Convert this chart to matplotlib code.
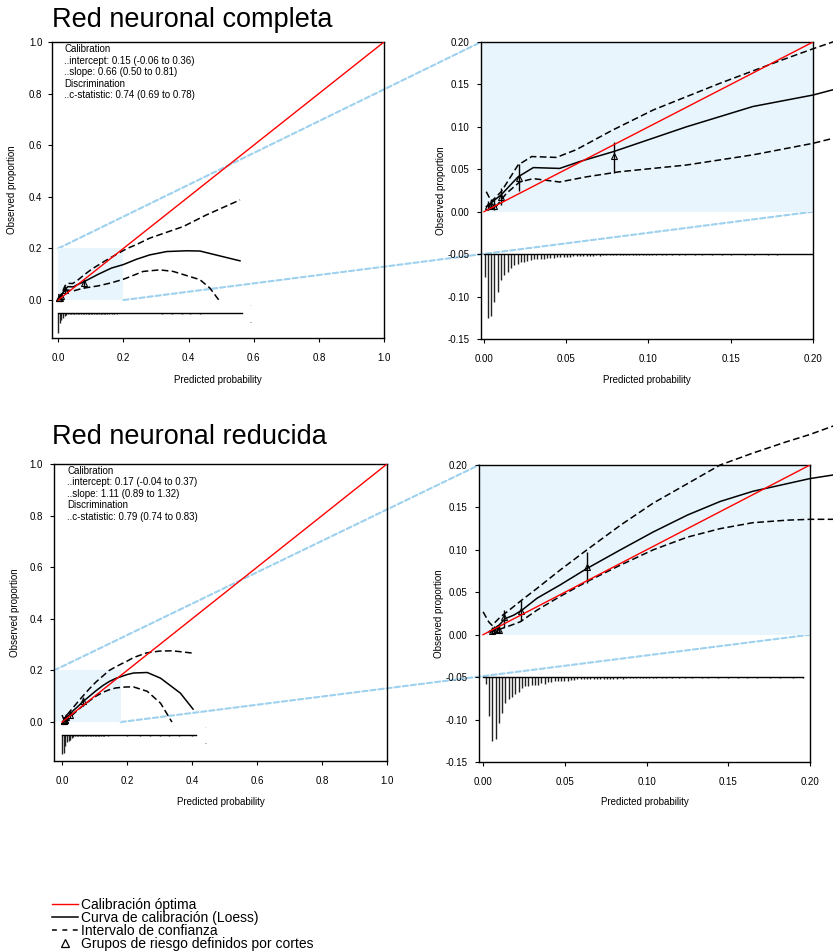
import matplotlib
matplotlib.use('Agg')
import matplotlib.pyplot as plt
from matplotlib.patches import Rectangle, ConnectionPatch
from matplotlib.lines import Line2D
import numpy as np

plt.rcParams['font.family'] = ['Liberation Sans', 'DejaVu Sans']
plt.rcParams['axes.unicode_minus'] = False

W, H = 833, 952

# ---- Red neuronal completa ----
comp_loess_x = [0.0014, 0.0105, 0.0207, 0.03, 0.046, 0.058, 0.079, 0.123, 0.1635, 0.2, 0.24, 0.281, 0.333, 0.394, 0.435, 0.558]
comp_loess_y = [0.006, 0.02, 0.041, 0.052, 0.051, 0.059, 0.071, 0.100, 0.124, 0.1375, 0.158, 0.175, 0.188, 0.191, 0.19, 0.152]
comp_upper_x = [0.0014, 0.0045, 0.0105, 0.0207, 0.029, 0.044, 0.056, 0.078, 0.103, 0.143, 0.18, 0.2, 0.212, 0.24, 0.281, 0.384, 0.455, 0.558]
comp_upper_y = [0.0236, 0.012, 0.0236, 0.055, 0.065, 0.064, 0.073, 0.096, 0.12, 0.151, 0.178, 0.192, 0.2, 0.215, 0.24, 0.285, 0.33, 0.388]
comp_lower_x = [0.0014, 0.0065, 0.0136, 0.0217, 0.03, 0.046, 0.062, 0.082, 0.123, 0.1635, 0.2, 0.212, 0.261, 0.312, 0.353, 0.435, 0.466, 0.496]
comp_lower_y = [0.002, 0.004, 0.0216, 0.035, 0.039, 0.035, 0.041, 0.047, 0.055, 0.067, 0.0806, 0.0864, 0.111, 0.117, 0.111, 0.079, 0.046, -0.005]
comp_grp_x = [0.0026, 0.004, 0.006, 0.0101, 0.0213, 0.0792]
comp_grp_y = [0.0065, 0.008, 0.007, 0.0173, 0.0396, 0.066]
comp_grp_lo = [0.002, 0.003, 0.002, 0.008, 0.0247, 0.046]
comp_grp_hi = [0.013, 0.015, 0.014, 0.028, 0.056, 0.0816]
comp_max_pred = 0.563
comp_stats = ["Calibration", "..intercept: 0.15 (-0.06 to 0.36)", "..slope: 0.66 (0.50 to 0.81)",
              "Discrimination", "..c-statistic: 0.74 (0.69 to 0.78)"]
# histogram of predictions, full range (bin width 0.005)
comp_hist_coarse = [0.0775, 0.04, 0.028, 0.019, 0.010, 0.0065, 0.005, 0.0045, 0.004, 0.004,
                    0.004, 0.004, 0.0035, 0.004, 0.0035, 0.0035, 0.003, 0.0035, 0.003, 0.003,
                    0.003, 0.003, 0.003, 0.0025, 0.003, 0.003, 0.0025, 0.003, 0.0025, 0.0025,
                    0.0025, 0.0025, 0.002, 0.0025, 0.0025, 0.002, 0.0025, 0.002, 0.002, 0.002,
                    0.002, 0.002, 0.0, 0.002, 0.002, 0.0, 0.002, 0.002, 0.0, 0.002,
                    0.0, 0.002, 0.0, 0.002, 0.0, 0.0, 0.002, 0.0, 0.0, 0.002]
comp_hist_tail_x = [0.32, 0.35, 0.38, 0.405, 0.435]
comp_hist_tail_h = [0.003, 0.003, 0.003, 0.003, 0.003]
# histogram of predictions, zoomed range (bin width 0.002)
comp_hist_fine = [0.027, 0.075, 0.0725, 0.056, 0.045, 0.031, 0.024, 0.021, 0.0165, 0.0126,
                  0.0114, 0.0098, 0.0087, 0.0075, 0.0067, 0.0059, 0.0055, 0.0055, 0.0055, 0.0047,
                  0.0047, 0.0043, 0.0039, 0.0035, 0.0032, 0.0028, 0.0028, 0.0024, 0.0024, 0.002,
                  0.002, 0.0024, 0.0016, 0.0016, 0.0012, 0.0016, 0.0012, 0.0012, 0.0012, 0.0012,
                  0.0012, 0.0008, 0.0012, 0.0012, 0.0008, 0.0012, 0.0008, 0.0012, 0.0008, 0.0008,
                  0.0008, 0.0008, 0.0008, 0.0, 0.0008, 0.0008, 0.0, 0.0008, 0.0, 0.0008,
                  0.0, 0.0008, 0.0, 0.0, 0.0008, 0.0, 0.0008, 0.0, 0.0, 0.0008,
                  0.0, 0.0, 0.0008, 0.0, 0.0, 0.0008, 0.0, 0.0, 0.0, 0.0008,
                  0.0, 0.0, 0.0008, 0.0, 0.0, 0.0, 0.0008, 0.0, 0.0, 0.0008]

# ---- Red neuronal reducida ----
red_loess_x = [0.0035, 0.0055, 0.0096, 0.0136, 0.0187, 0.0238, 0.033, 0.047, 0.0635, 0.084, 0.104, 0.125, 0.145, 0.165, 0.186, 0.2, 0.22, 0.262, 0.303, 0.364, 0.403]
red_loess_y = [0.0035, 0.0055, 0.011, 0.019, 0.023, 0.029, 0.043, 0.0585, 0.078, 0.1, 0.121, 0.141, 0.157, 0.169, 0.178, 0.184, 0.19, 0.192, 0.17, 0.112, 0.05]
red_upper_x = [0.0, 0.0035, 0.0055, 0.0106, 0.0147, 0.0238, 0.033, 0.047, 0.0635, 0.084, 0.104, 0.125, 0.145, 0.165, 0.185, 0.2, 0.22, 0.26, 0.3, 0.34, 0.403]
red_upper_y = [0.027, 0.015, 0.011, 0.021, 0.027, 0.041, 0.0546, 0.076, 0.1, 0.129, 0.155, 0.178, 0.2, 0.214, 0.227, 0.236, 0.25, 0.268, 0.275, 0.276, 0.267]
red_lower_x = [0.0035, 0.0086, 0.0147, 0.0228, 0.033, 0.047, 0.0635, 0.084, 0.104, 0.125, 0.145, 0.165, 0.186, 0.2, 0.22, 0.262, 0.303, 0.338]
red_lower_y = [0.0035, 0.0055, 0.0094, 0.0153, 0.029, 0.045, 0.0625, 0.082, 0.1, 0.115, 0.125, 0.132, 0.135, 0.136, 0.136, 0.119, 0.073, 0.0]
red_grp_x = [0.0055, 0.0065, 0.0084, 0.0095, 0.013, 0.023, 0.0638]
red_grp_y = [0.004, 0.005, 0.0065, 0.006, 0.0204, 0.0274, 0.080]
red_grp_lo = [0.001, 0.001, 0.002, 0.002, 0.009, 0.0157, 0.061]
red_grp_hi = [0.009, 0.01, 0.012, 0.012, 0.029, 0.041, 0.098]
red_max_pred = 0.411
red_stats = ["Calibration", "..intercept: 0.17 (-0.04 to 0.37)", "..slope: 1.11 (0.89 to 1.32)",
             "Discrimination", "..c-statistic: 0.79 (0.74 to 0.83)"]
red_hist_coarse = [0.073, 0.071, 0.041, 0.028, 0.022, 0.018, 0.013, 0.009, 0.006, 0.005,
                   0.005, 0.005, 0.0045, 0.0045, 0.004, 0.004, 0.004, 0.0035, 0.0035, 0.003,
                   0.003, 0.003, 0.0025, 0.003, 0.0025, 0.0025, 0.0025, 0.002, 0.0025, 0.002,
                   0.002, 0.002, 0.0, 0.002]
red_hist_tail_x = [0.2, 0.24, 0.27, 0.30, 0.33, 0.36, 0.40]
red_hist_tail_h = [0.004, 0.004, 0.003, 0.004, 0.003, 0.003, 0.003]
red_hist_fine = [0.0086, 0.046, 0.0757, 0.0733, 0.054, 0.042, 0.030, 0.026, 0.0235, 0.020,
                 0.017, 0.0125, 0.011, 0.0106, 0.0098, 0.0098, 0.0098, 0.007, 0.0078, 0.0059,
                 0.0055, 0.0047, 0.0051, 0.0047, 0.0051, 0.0043, 0.0039, 0.0031, 0.0027, 0.0027,
                 0.0024, 0.0024, 0.0024, 0.002, 0.002, 0.002, 0.002, 0.0016, 0.0016, 0.0016,
                 0.0016, 0.0012, 0.0016, 0.0012, 0.0012, 0.0012, 0.0008, 0.0012, 0.0008, 0.0008,
                 0.0008, 0.0008, 0.0008, 0.0, 0.0008, 0.0008, 0.0, 0.0008, 0.0, 0.0008,
                 0.0, 0.0008, 0.0, 0.0008, 0.0, 0.0, 0.0008, 0.0, 0.0008, 0.0,
                 0.0, 0.0008, 0.0, 0.0, 0.0008, 0.0, 0.0, 0.0008, 0.0, 0.0,
                 0.0008, 0.0, 0.0, 0.0008, 0.0, 0.0, 0.0, 0.0008, 0.0, 0.0,
                 0.0008, 0.0, 0.0, 0.0, 0.0008, 0.0, 0.0, 0.0008]
red_hist_fine_end = 0.196

legend_labels = ["Calibración óptima", "Curva de calibración (Loess)",
                 "Intervalo de confianza", "Grupos de riesgo definidos por cortes"]

RED = '#FF0000'
SHADE = '#E8F5FC'
BLUE = '#9DD1EE'
DASH = (0, (4.4, 2.2))
HIST_BASE = -0.05


def px(x, y):
    return x / W, 1 - y / H


fig = plt.figure(figsize=(W / 100, H / 100), dpi=100)

ax1 = fig.add_axes([52 / W, 1 - 338 / H, 332 / W, 296 / H])
ax2 = fig.add_axes([481 / W, 1 - 339 / H, 332 / W, 297 / H])
ax3 = fig.add_axes([54 / W, 1 - 761 / H, 333 / W, 297 / H])
ax4 = fig.add_axes([479 / W, 1 - 762 / H, 331 / W, 297 / H])

ax1.set_xlim(-0.019, 1.0); ax1.set_ylim(-0.147, 1.0)
ax2.set_xlim(-0.0018, 0.2); ax2.set_ylim(-0.15, 0.2)
ax3.set_xlim(-0.025, 1.0); ax3.set_ylim(-0.151, 1.0)
ax4.set_xlim(-0.0025, 0.2); ax4.set_ylim(-0.15, 0.2)


def style_axes(ax, xt, yt, fmt, ypad):
    ax.set_facecolor('none')
    ax.set_xticks(xt)
    ax.set_xticklabels([fmt.format(t) for t in xt])
    ax.set_yticks(yt)
    ax.set_yticklabels([fmt.format(t) for t in yt])
    ax.tick_params(axis='x', direction='out', length=3, width=0.8, labelsize=7, pad=7.5)
    ax.tick_params(axis='y', direction='out', length=3, width=0.8, labelsize=7, pad=ypad)
    for s in ax.spines.values():
        s.set_linewidth(1.0)


full_ticks = [0.0, 0.2, 0.4, 0.6, 0.8, 1.0]
zoom_xticks = [0.0, 0.05, 0.10, 0.15, 0.20]
zoom_yticks = [-0.15, -0.10, -0.05, 0.0, 0.05, 0.10, 0.15, 0.20]
style_axes(ax1, full_ticks, full_ticks, "{:.1f}", 4)
style_axes(ax3, full_ticks, full_ticks, "{:.1f}", 5)
style_axes(ax2, zoom_xticks, zoom_yticks, "{:.2f}", 5.5)
style_axes(ax4, zoom_xticks, zoom_yticks, "{:.2f}", 5.5)


def draw_curves(ax, lx, ly, ux, uy, wx, wy, gx, gy, glo, ghi, clip):
    ax.plot(ux, uy, color='black', lw=1.1, ls=DASH, clip_on=clip, zorder=3)
    ax.plot(wx, wy, color='black', lw=1.1, ls=DASH, clip_on=clip, zorder=3)
    ax.plot(lx, ly, color='black', lw=1.1, clip_on=clip, zorder=3)
    ax.vlines(gx, glo, ghi, color='black', lw=1.0, zorder=4)
    ax.plot(gx, gy, ls='none', marker='^', ms=5, mfc='none', mec='black', mew=0.8, zorder=4)


def draw_hist(ax, start, width, heights, end, tail_x=None, tail_h=None):
    xs = start + width * np.arange(len(heights))
    h = np.array(heights)
    keep = h > 0
    ax.vlines(xs[keep], HIST_BASE - h[keep], HIST_BASE, color='#222222', lw=1.0, zorder=2)
    if tail_x is not None:
        ax.vlines(tail_x, HIST_BASE - np.array(tail_h), HIST_BASE, color='#222222', lw=1.0, zorder=2)
    ax.plot([0, end], [HIST_BASE, HIST_BASE], color='black', lw=1.0, zorder=2)


# panel 1: completa, full range
ax1.add_patch(Rectangle((0, 0), 0.2, 0.2, color=SHADE, lw=0, zorder=1))
draw_hist(ax1, 0.0, 0.005, comp_hist_coarse, comp_max_pred, comp_hist_tail_x, comp_hist_tail_h)
draw_curves(ax1, comp_loess_x, comp_loess_y, comp_upper_x, comp_upper_y, comp_lower_x, comp_lower_y,
            comp_grp_x, comp_grp_y, comp_grp_lo, comp_grp_hi, True)
ax1.plot([0, 1], [0, 1], color=RED, lw=1.0, zorder=5)
ax1.text(0.59, -0.022, '-', fontsize=4, color='#bbbbbb', ha='center', va='center')
ax1.text(0.59, -0.082, '.', fontsize=5, color='black', ha='center', va='center')

# panel 2: completa, zoom
ax2.axhspan(0, 0.2, color=SHADE, lw=0, zorder=1)
draw_hist(ax2, 0.0004, 0.002, comp_hist_fine, 0.2)
draw_curves(ax2, comp_loess_x, comp_loess_y, comp_upper_x, comp_upper_y, comp_lower_x, comp_lower_y,
            comp_grp_x, comp_grp_y, comp_grp_lo, comp_grp_hi, False)
ax2.plot([0, 0.2], [0, 0.2], color=RED, lw=1.0, zorder=5)

# panel 3: reducida, full range
ax3.add_patch(Rectangle((-0.025, 0), 0.205, 0.2, color=SHADE, lw=0, zorder=1))
draw_hist(ax3, 0.0, 0.005, red_hist_coarse, red_max_pred, red_hist_tail_x, red_hist_tail_h)
draw_curves(ax3, red_loess_x, red_loess_y, red_upper_x, red_upper_y, red_lower_x, red_lower_y,
            red_grp_x, red_grp_y, red_grp_lo, red_grp_hi, True)
ax3.plot([0, 1], [0, 1], color=RED, lw=1.0, zorder=5)
ax3.text(0.441, -0.021, '-', fontsize=4, color='#bbbbbb', ha='center', va='center')
ax3.text(0.441, -0.081, '.', fontsize=5, color='black', ha='center', va='center')

# panel 4: reducida, zoom
ax4.axhspan(0, 0.2, color=SHADE, lw=0, zorder=1)
draw_hist(ax4, 0.0017, 0.002, red_hist_fine, red_hist_fine_end)
draw_curves(ax4, red_loess_x, red_loess_y, red_upper_x, red_upper_y, red_lower_x, red_lower_y,
            red_grp_x, red_grp_y, red_grp_lo, red_grp_hi, False)
ax4.plot([0, 0.2], [0, 0.2], color=RED, lw=1.0, zorder=5)

# zoom connectors
for axA, pA_top, pA_bot, axB in [(ax1, (0, 0.2), (0.2, 0.0), ax2), (ax3, (-0.025, 0.2), (0.18, 0.0), ax4)]:
    for pA, pB in [(pA_top, (0, 1)), (pA_bot, (1, 0.15 / 0.35))]:
        con = ConnectionPatch(xyA=pA, coordsA="data", axesA=axA, xyB=pB, coordsB="axes fraction",
                              axesB=axB, color=BLUE, lw=1.5, linestyle=(0, (2.5, 1.4)), zorder=-1)
        fig.add_artist(con)

# axis labels
for ax, xl_y, yl_x, top, bot in [(ax1, 380, 12, 42, 338), (ax2, 380, 441, 42, 339),
                                 (ax3, 802, 15, 464, 761), (ax4, 802, 439, 465, 762)]:
    bb = ax.get_position()
    cx = (bb.x0 + bb.x1) / 2
    fig.text(cx, 1 - xl_y / H, "Predicted probability", fontsize=7, ha='center', va='center')
    fig.text(yl_x / W, 1 - (top + bot) / 2 / H, "Observed proportion", fontsize=7,
             rotation=90, ha='center', va='center')

# statistics text
for lines, x0, ys in [(comp_stats, 64.3, [49, 60.7, 72.3, 83.7, 95.3]),
                      (red_stats, 67.3, [470.7, 482.3, 494, 505.3, 517])]:
    for s, yy in zip(lines, ys):
        fig.text(*px(x0, yy), s, fontsize=7, ha='left', va='center')

# titles
fig.text(*px(52, 20), "Red neuronal completa", fontsize=19.5, ha='left', va='center')
fig.text(*px(52, 437), "Red neuronal reducida", fontsize=19.5, ha='left', va='center')

# legend
handles = [Line2D([], [], color=RED, lw=1.0),
           Line2D([], [], color='black', lw=1.1),
           Line2D([], [], color='black', lw=1.1, ls=(0, (3.2, 3.6))),
           Line2D([], [], ls='none', marker='^', ms=5.5, mfc='none', mec='black', mew=0.9)]
fig.legend(handles, legend_labels, loc='upper left', bbox_to_anchor=px(52, 898),
           frameon=False, borderpad=0, borderaxespad=0, handlelength=1.9,
           handletextpad=0.2, labelspacing=-0.08, fontsize=10, numpoints=1)

fig.savefig('out.png', dpi=100)
